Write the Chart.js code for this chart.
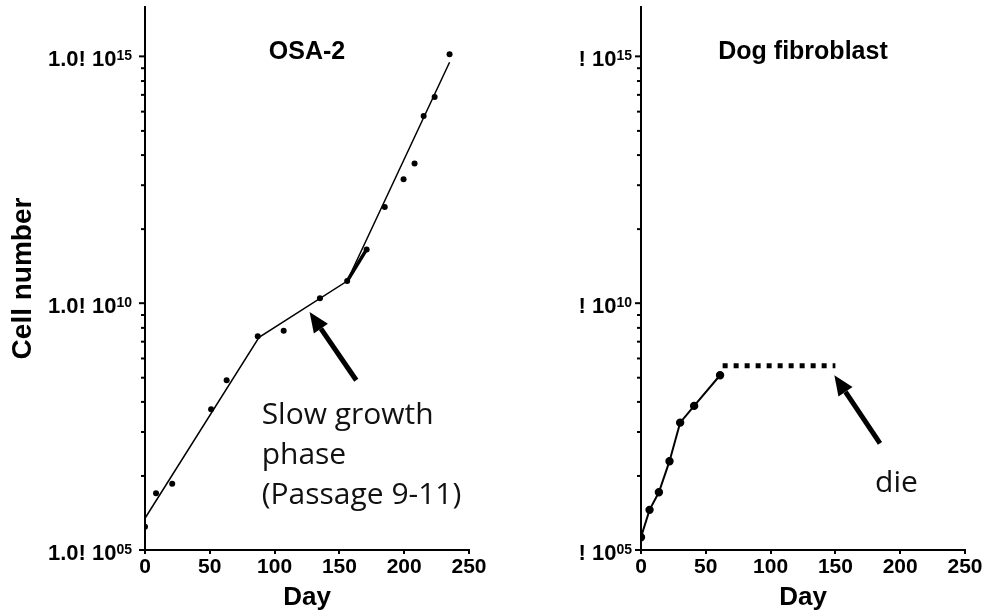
<!DOCTYPE html>
<html>
<head>
<meta charset="utf-8">
<script src="https://cdn.jsdelivr.net/npm/chart.js@4.4.0/dist/chart.umd.min.js"></script>
<style>
  body { margin: 0; background: #fff; }
  #wrap { position: relative; width: 985px; height: 616px; }
  canvas { position: absolute; top: 0; }
</style>
</head>
<body>
<div id="wrap">
  <canvas id="osa" width="490" height="616" style="left:0"></canvas>
  <canvas id="dog" width="495" height="616" style="left:490px"></canvas>
</div>
<script>
// OSA-2 cumulative cell counts
const osaDays  = [0, 8.5, 21, 51, 63, 87, 107, 135, 156, 171, 185, 199.5, 208, 215, 223.5, 235];
const osaCells = [2.95e5, 1.41e6, 2.19e6, 7.1e7, 2.75e8, 2.14e9, 2.75e9, 1.26e10, 2.8e10, 1.23e11, 8.9e11, 3.24e12, 6.76e12, 6.17e13, 1.51e14, 1.1e15];
// piecewise fit: early growth, slow phase, late growth
const osaFitDays  = [0, 88, 156, 235];
const osaFitCells = [4.4e5, 2.04e9, 2.8e10, 7.6e14];

// dog fibroblast cumulative cell counts
const dogDays  = [0, 6.6, 13.8, 22, 30.2, 41, 61];
const dogCells = [1.82e5, 6.5e5, 1.48e6, 6.3e6, 3.8e7, 8.3e7, 3.47e8];
// plateau until the culture dies
const dogPlateauDays  = [63, 150];
const dogPlateauCells = [5.4e8, 5.4e8];

const majorTicks = [1e5, 1e10, 1e15];
const majorExp = ['05', '10', '15'];
// minor tick positions inside each 5-decade span (in decades above the major tick)
const minorOffsets = [1.5, 2.39, 3.0, 3.49, 3.88, 4.22, 4.5, 4.76];

const FONT = '"Liberation Sans", Arial, sans-serif';
const NOTE_FONT = '"Open Sans", sans-serif';

function toPts(xs, ys) {
  return xs.map((d, i) => ({x: d, y: ys[i]}));
}

// y ticks with superscript exponents, panel title, arrow and note
function makeDecor(cfg) {
  return {
    id: 'decor',
    afterDraw(chart) {
      const {ctx, chartArea: area, scales: {x, y}} = chart;
      ctx.save();
      ctx.fillStyle = '#000';
      ctx.strokeStyle = '#000';
      ctx.lineWidth = 2;
      const left = area.left;
      majorTicks.forEach((v, i) => {
        const py = y.getPixelForValue(v);
        ctx.beginPath(); ctx.moveTo(left - 6, py); ctx.lineTo(left, py); ctx.stroke();
        if (i < majorTicks.length - 1) {
          minorOffsets.forEach(off => {
            const my = y.getPixelForValue(v * Math.pow(10, off));
            ctx.beginPath(); ctx.moveTo(left - 4, my); ctx.lineTo(left, my); ctx.stroke();
          });
        }
        const right = left - cfg.labelGap;
        ctx.textAlign = 'right';
        ctx.textBaseline = 'alphabetic';
        ctx.font = 'bold 14px ' + FONT;
        const supW = ctx.measureText(majorExp[i]).width;
        ctx.fillText(majorExp[i], right, py + 3.5);
        ctx.font = 'bold 22px ' + FONT;
        ctx.fillText(cfg.prefix, right - supW, py + 9.5);
      });

      // panel title
      ctx.font = 'bold 25px ' + FONT;
      ctx.textAlign = 'center';
      ctx.textBaseline = 'middle';
      ctx.fillText(cfg.title, (area.left + area.right) / 2, area.top + 45);

      // arrow
      const a = cfg.arrow;
      const x0 = x.getPixelForValue(a.from[0]), y0 = y.getPixelForValue(a.from[1]);
      const x1 = x.getPixelForValue(a.to[0]), y1 = y.getPixelForValue(a.to[1]);
      const ang = Math.atan2(y1 - y0, x1 - x0);
      const headLen = 20, headHalf = 8.5;
      const bx = x1 - headLen * Math.cos(ang), by = y1 - headLen * Math.sin(ang);
      ctx.lineWidth = 5;
      ctx.beginPath(); ctx.moveTo(x0, y0); ctx.lineTo(bx, by); ctx.stroke();
      ctx.beginPath();
      ctx.moveTo(x1, y1);
      ctx.lineTo(bx + headHalf * Math.sin(ang), by - headHalf * Math.cos(ang));
      ctx.lineTo(bx - headHalf * Math.sin(ang), by + headHalf * Math.cos(ang));
      ctx.closePath();
      ctx.fill();

      // note text
      const n = cfg.note;
      ctx.font = '30px ' + NOTE_FONT;
      ctx.textAlign = 'left';
      ctx.textBaseline = 'alphabetic';
      ctx.fillStyle = '#111';
      const nx = x.getPixelForValue(n.at[0]), ny = y.getPixelForValue(n.at[1]);
      n.lines.forEach((t, k) => ctx.fillText(t, nx, ny + k * 40));
      ctx.restore();
    }
  };
}

function xScale() {
  return {
    type: 'linear', min: 0, max: 250,
    ticks: {stepSize: 50, color: '#000', padding: 1, maxRotation: 0,
            font: {family: FONT, size: 21, weight: 'bold'}},
    grid: {drawOnChartArea: false, drawTicks: true, tickLength: 4, color: '#000', lineWidth: 2},
    border: {display: true, color: '#000', width: 2},
    title: {display: true, text: 'Day', color: '#000', padding: {top: 0, bottom: 3},
            font: {family: FONT, size: 26, weight: 'bold'}},
    afterFit(s) { s.height = 66; }
  };
}

function yScale(width, title) {
  return {
    type: 'logarithmic', min: 1e5, max: 1e16,
    afterBuildTicks(s) { s.ticks = majorTicks.map(v => ({value: v})); },
    ticks: {display: false},
    grid: {display: false},
    border: {display: true, color: '#000', width: 2},
    title: {display: !!title, text: title || '', color: '#000', padding: {top: 6, bottom: 0},
            font: {family: FONT, size: 28, weight: 'bold'}},
    afterFit(s) { s.width = width; }
  };
}

const common = {
  responsive: false,
  animation: false,
  events: [],
  plugins: {legend: {display: false}, tooltip: {enabled: false}}
};

new Chart(document.getElementById('osa'), {
  type: 'scatter',
  data: {
    datasets: [
      {data: toPts(osaDays, osaCells), showLine: false, pointRadius: 3,
       backgroundColor: '#000', borderColor: '#000', borderWidth: 0},
      {data: toPts(osaFitDays, osaFitCells), showLine: true, pointRadius: 0,
       borderColor: '#000', borderWidth: 1.5},
      {data: toPts(osaDays.slice(8, 10), osaCells.slice(8, 10)), showLine: true, pointRadius: 0,
       borderColor: '#000', borderWidth: 3.5}
    ]
  },
  options: Object.assign({}, common, {
    layout: {padding: {top: 7, right: 21, bottom: 0, left: 0}},
    scales: {x: xScale(), y: yScale(145, 'Cell number')}
  }),
  plugins: [makeDecor({
    prefix: '1.0! 10', labelGap: 13, title: 'OSA-2',
    arrow: {from: [163, 2.75e8], to: [127, 6.6e9]},
    note: {at: [90, 3.5e7], lines: ['Slow growth', 'phase', '(Passage 9-11)']}
  })]
});

new Chart(document.getElementById('dog'), {
  type: 'scatter',
  data: {
    datasets: [
      {data: toPts(dogDays, dogCells), showLine: true, pointRadius: 3.2,
       backgroundColor: '#000', borderColor: '#000', borderWidth: 2},
      {data: toPts(dogPlateauDays, dogPlateauCells), showLine: true, pointRadius: 0,
       borderColor: '#000', borderWidth: 5, borderDash: [5, 6], borderCapStyle: 'butt'}
    ]
  },
  options: Object.assign({}, common, {
    layout: {padding: {top: 7, right: 20, bottom: 0, left: 0}},
    scales: {x: xScale(), y: yScale(151, '')}
  }),
  plugins: [makeDecor({
    prefix: '! 10', labelGap: 9, title: 'Dog fibroblast',
    arrow: {from: [184.4, 1.45e7], to: [149.2, 3.47e8]},
    note: {at: [180.6, 1.5e6], lines: ['die']}
  })]
});
</script>
</body>
</html>
